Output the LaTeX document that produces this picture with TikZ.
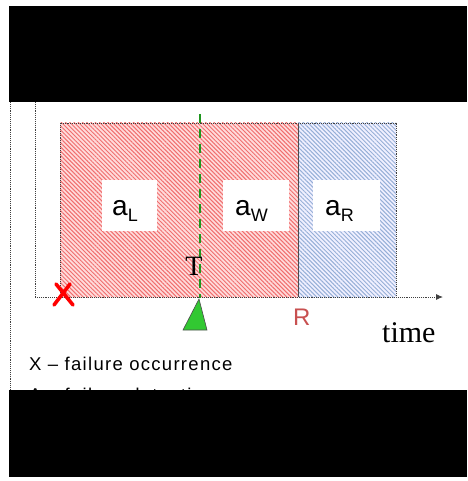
\documentclass[tikz,border=0pt]{standalone}
\usepackage{fontspec}
\setmainfont{Liberation Sans}
\newfontfamily\seriffont{Liberation Serif}
\usetikzlibrary{patterns.meta,arrows.meta}
\definecolor{hatchred}{RGB}{240,110,110}
\definecolor{hatchblue}{RGB}{150,175,215}
\definecolor{rlabel}{RGB}{200,80,80}
\definecolor{tgreen}{RGB}{50,200,50}
\definecolor{dgreen}{RGB}{30,150,30}
\tikzset{
  axisline/.style={densely dotted, draw=black!75, line width=0.9pt},
  labelbox/.style={fill=white, draw=none},
  sublabel/.style={anchor=base west, inner sep=0pt, font=\fontsize{28}{30}\selectfont},
  legend/.style={anchor=base west, inner sep=0pt, font=\fontsize{18.5}{22}\selectfont\addfontfeatures{LetterSpace=7}},
  failmark/.style={red, line width=3.6pt, line cap=round},
}
\newcommand{\subL}[1]{\raisebox{-6pt}{\fontsize{18}{18}\selectfont #1}}
\begin{document}
\begin{tikzpicture}[x=1pt,y=-1pt]
\useasboundingbox (0,0) rectangle (467,481);
\fill[white] (0,0) rectangle (467,481);
% hatched regions
\fill[red!14] (60,123) rectangle (298,297);
\fill[pattern={Lines[angle=-45,distance=3pt,line width=1pt]}, pattern color=hatchred] (60,123) rectangle (298,297);
\fill[blue!6] (298,123) rectangle (396,297);
\fill[pattern={Lines[angle=-45,distance=3pt,line width=1pt]}, pattern color=hatchblue] (298,123) rectangle (396,297);
\draw[axisline] (60,297) -- (60,123) -- (396,123) -- (396,297);
\draw[black!70, line width=0.8pt] (298,123) -- (298,297);
% white label boxes
\fill[labelbox] (102,180) rectangle (157,231);
\fill[labelbox] (223,180) rectangle (289,231);
\fill[labelbox] (313,180) rectangle (380,231);
\node[sublabel] (aL) at (112,215) {a\subL{L}};
\node[sublabel] (aW) at (235,215) {a\subL{W}};
\node[sublabel] (aR) at (325,215) {a\subL{R}};
% axes
\coordinate (ytop) at (35,102);
\coordinate (orig) at (35,297);
\coordinate (xend) at (443,297);
\coordinate (ltop) at (10,102);
\coordinate (lbot) at (10,390);
\draw[axisline] (ltop) -- (lbot);
\draw[axisline] (ytop) -- (orig);
\draw[axisline, -{Latex[length=7pt,width=6pt]}] (orig) -- (xend);
% detection line
\coordinate (dtop) at (200,114);
\coordinate (dbot) at (200,298);
\draw[dgreen, line width=2.6pt, dash pattern=on 9pt off 6pt] (dtop) -- (dbot);
\node[anchor=base, inner sep=0pt, font=\seriffont\fontsize{28}{30}\selectfont] (T) at (194,275) {T};
% triangle
\coordinate (apex) at (199,299);
\filldraw[fill=tgreen, draw=black!70, line width=0.6pt] (apex) -- (207,330) -- (183,330) -- cycle;
% failure mark X
\coordinate (xa) at (56,284);
\coordinate (xb) at (73,305);
\coordinate (xc) at (70,284);
\coordinate (xd) at (54,305);
\draw[failmark] (xa) -- (xb);
\draw[failmark] (xc) -- (xd);
% labels
\node[anchor=base west, inner sep=0pt, text=rlabel, font=\fontsize{24}{24}\selectfont] (R) at (293,325) {R};
\node[anchor=base west, inner sep=0pt, font=\seriffont\fontsize{30}{30}\selectfont] (time) at (382,342) {time};
% legend
\node[legend] (leg1) at (29,370) {X -- failure occurrence};
\node[legend] (leg2) at (29,401) {A -- failure detection};
% black bands
\fill[black] (9,6) rectangle (467,102);
\fill[black] (9,390) rectangle (467,477);
\end{tikzpicture}
\end{document}
